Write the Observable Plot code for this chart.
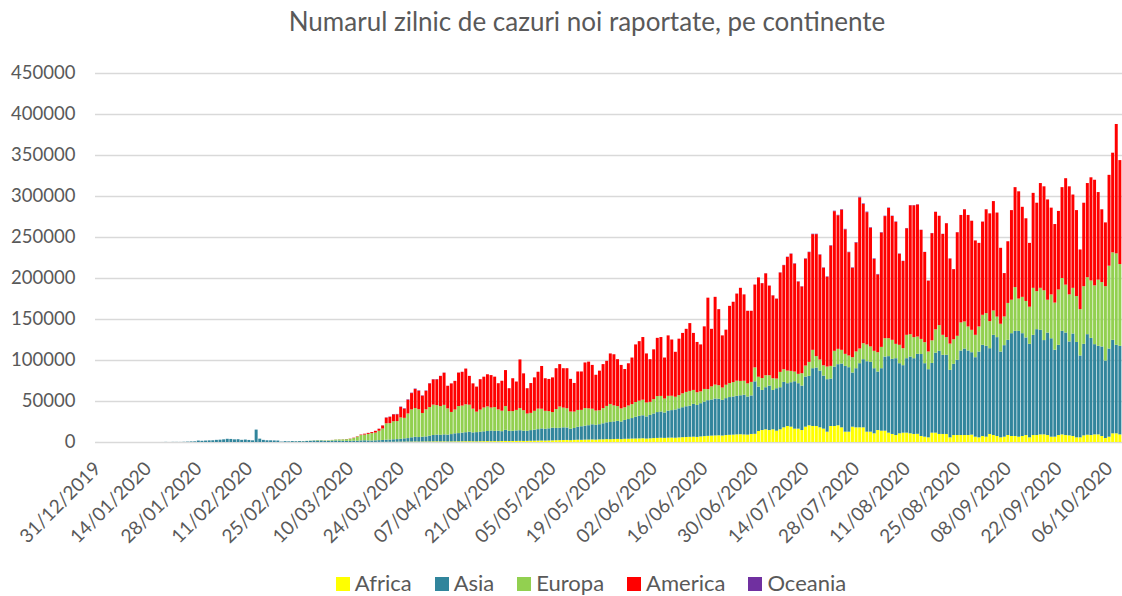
<!DOCTYPE html>
<html>
<head>
<meta charset="utf-8">
<script src="https://cdn.jsdelivr.net/npm/d3@7"></script>
<script src="https://cdn.jsdelivr.net/npm/@observablehq/plot@0.6"></script>
<style>
html,body{margin:0;padding:0;background:#fff;}
#wrap{position:relative;width:1122px;height:596px;overflow:hidden;font-family:Lato,sans-serif;background:#fff;}
#title{position:absolute;left:0;top:6px;width:1122px;text-align:center;font-size:26px;line-height:30px;color:#595959;padding-left:52px;box-sizing:border-box;white-space:nowrap;}
#chart{position:absolute;left:0;top:50px;}
#legend{position:absolute;left:0;top:570px;width:1122px;display:flex;justify-content:center;gap:23px;font-size:22px;line-height:26px;color:#595959;padding-left:60px;box-sizing:border-box;}
.item{display:flex;align-items:flex-start;}
.sw{width:14px;height:14px;margin-right:5px;margin-top:7px;}
</style>
</head>
<body>
<div id="wrap">
  <div id="title">Numarul zilnic de cazuri noi raportate, pe continente</div>
  <div id="chart"></div>
  <div id="legend"></div>
</div>
<script>
// Daily categories: 31/12/2019 .. 09/10/2020
const firstDay = new Date(Date.UTC(2019, 11, 31));
const dayAfterLast = new Date(Date.UTC(2020, 9, 10));

const continents = ["Africa", "Asia", "Europa", "America", "Oceania"];
const colors = ["#FFFF00", "#31859C", "#92D050", "#FF0000", "#7030A0"];

const tickLabels = ["31/12/2019","14/01/2020","28/01/2020","11/02/2020","25/02/2020","10/03/2020","24/03/2020",
  "07/04/2020","21/04/2020","05/05/2020","19/05/2020","02/06/2020","16/06/2020","30/06/2020","14/07/2020",
  "28/07/2020","11/08/2020","25/08/2020","08/09/2020","22/09/2020","06/10/2020"];
const yTicks = [0, 50000, 100000, 150000, 200000, 250000, 300000, 350000, 400000, 450000];

// daily new cases, thousands
const africa = [
0,0,0,0,0,0,0,0,0,0,
0,0,0,0,0,0,0,0,0,0,
0,0,0,0,0,0,0,0,0,0,
0,0,0,0,0,0,0,0,0,0,
0,0,0,0,0,0.001,0,0,0,0,
0,0,0,0,0,0,0,0.001,0.001,0.002,
0.001,0.003,0.002,0.005,0.004,0.006,0.01,0.02,0.015,0.025,
0.03,0.04,0.05,0.06,0.08,0.09,0.1,0.12,0.15,0.17,
0.2,0.25,0.3,0.35,0.4,0.45,0.5,0.55,0.6,0.55,
0.6,0.65,0.7,0.75,0.8,0.75,0.8,0.7,0.75,0.8,
0.85,0.9,0.95,1.0,0.9,0.85,1.0,1.05,1.1,1.0,
1.1,1.0,1.2,1.3,1.2,1.25,1.35,1.4,1.3,1.4,
1.5,1.6,1.7,1.8,1.75,1.9,2.0,2.2,2.3,2.4,
2.5,2.2,2.6,2.8,2.7,2.9,3.0,3.1,2.9,3.2,
3.3,3.5,3.4,3.6,3.8,3.5,3.9,4.0,4.2,4.3,
4.4,4.6,4.2,4.5,4.8,5.0,5.2,5.0,5.3,5.4,
5.2,5.6,5.9,6.1,6.3,6.5,6.2,6.8,7.2,7.5,
7.8,8.0,8.2,7.9,8.5,8.8,9.0,9.3,9.5,9.2,
9.0,9.8,10.0,13.4,14.6,15.5,14.6,15.5,13.8,15.5,
17.9,19.5,18.7,16.3,16.3,14.6,18.7,20.4,19.5,19.5,
17.9,16.3,12.6,19.5,19.5,20.4,17.9,12.6,12.6,18.7,
17.9,17.9,17.9,12.6,12.6,10.6,14.6,13.8,13.8,11.4,
9.8,8.5,10.6,11.4,11.4,10.6,9.8,10.0,7.3,6.5,
5.7,11.4,11.4,9.8,9.8,9.8,5.7,8.5,8.5,8.5,
8.5,8.5,9.0,6.5,5.7,7.3,6.5,9.8,8.5,7.3,
5.7,6.5,8.5,7.3,7.3,6.5,7.3,8.5,5.7,8.5,
8.5,9.3,9.3,8.5,6.5,6.5,8.5,9.3,8.5,8.1,
7.3,5.7,5.7,8.1,8.9,8.5,9.3,9.3,7.3,4.9,
6.5,10.6,10.6,9.3];

const asia = [
0.027,0,0,0,0,0,0,0,0,0,
0,0,0,0.001,0,0.001,0,0.004,0.017,0.136,
0.019,0.151,0.14,0.097,0.266,0.453,0.673,0.797,1.767,1.48,
1.757,1.985,2.111,2.614,2.843,3.251,3.907,3.738,3.221,3.4,
2.658,3.001,2.519,2.022,15.151,4.071,2.591,2.09,2.05,1.895,
1.768,0.454,1.04,0.75,1.13,0.9,1.1,0.95,1.25,1.45,
1.75,1.7,1.85,1.45,1.4,1.7,1.8,1.7,1.5,1.35,
1.3,1.6,1.5,1.9,2.0,1.8,1.7,1.9,2.1,2.3,
2.6,2.8,3.0,3.2,3.5,4.0,4.3,5.2,5.8,5.5,
5.8,6.2,7.0,7.8,8.2,8.0,8.5,8.3,8.9,9.8,
10.0,10.5,11.0,11.5,10.8,11.2,11.5,12.0,12.3,13.0,
12.5,12.8,12.0,13.5,12.5,12.4,12.8,13.0,12.5,12.3,
13.0,13.4,14.0,14.8,14.3,14.8,15.5,15.0,15.0,15.5,
15.2,14.0,14.5,15.8,16.5,17.0,17.5,18.5,18.0,18.5,
19.5,20.5,21.0,21.5,22.0,21.5,23.0,24.0,25.0,26.5,
27.5,28.0,27.0,28.5,30.0,31.5,32.0,31.0,33.0,33.5,
34.5,35.5,36.5,37.5,38.0,40.0,39.0,40.5,42.0,43.5,
44.0,45.0,44.5,43.5,45.0,46.0,46.5,47.0,47.5,48.5,
46.5,47.0,64.0,54.2,48.9,51.3,54.2,48.0,51.8,51.3,
55.4,52.2,54.2,57.8,55.4,54.2,61.1,60.2,70.5,71.3,
69.2,64.7,64.0,57.9,72.5,74.5,77.8,80.2,78.6,66.0,
72.1,78.2,83.1,85.9,85.1,79.4,71.3,76.2,90.4,93.3,
91.6,93.7,85.5,82.3,90.8,93.6,92.4,97.5,100.0,89.6,
83.1,85.0,97.5,101.4,96.5,96.5,82.3,86.8,91.7,103.1,
105.5,103.1,100.5,96.9,104.6,111.2,110.8,104.6,122.2,120.6,
104.6,111.6,116.1,125.4,128.3,129.0,125.4,119.0,114.0,122.2,
129.1,127.5,115.0,125.0,120.0,106.0,110.0,126.3,125.0,114.5,
125.0,116.3,99.8,111.6,122.6,118.5,110.0,108.0,109.2,94.5,
107.5,114.0,107.9,108.0];

const europa = [
0,0,0,0,0,0,0,0,0,0,
0,0,0,0,0,0,0,0,0,0,
0,0,0,0,0.003,0,0.001,0.001,0.004,0.001,
0.005,0.003,0.01,0.002,0.001,0.001,0,0.005,0.002,0.004,
0.004,0.002,0.003,0.001,0.002,0.002,0.001,0.001,0,0.001,
0.002,0.003,0.003,0.017,0.062,0.054,0.1,0.13,0.16,0.2,
0.24,0.57,0.38,0.51,0.58,0.78,1.15,1.4,1.7,2.1,
2.6,3.2,5.0,6.5,7.0,8.0,9.0,9.5,11.5,14.0,
20,20,22,22,26,25,30,34,35,34,
29,33,35,37,36,35,36,32,27,29,
33,33,34,33,29,25,27,29,30,28,
29,26,25,29,24,24,25,27,25,21,
21,23,25,24,22,21,19,23,26.0,24.0,
23.5,21.0,20.0,20.5,20.0,21.5,20.5,19.0,17.5,17.0,
18.5,20.0,22.0,19.5,18.0,16.0,15.5,16.5,17.0,18.0,
18.5,19.0,17.0,16.0,17.5,19.5,19.0,17.0,18.0,17.5,
15.5,16.0,17.0,17.5,18.0,17.0,15.5,14.5,15.5,13.5,
16.0,17.0,16.5,15.0,16.3,17.0,17.5,18.5,17.5,17.0,
16.0,16.5,17.0,12.0,14.5,14.6,12.6,14.3,11.8,18.7,
15.5,15.4,13.8,11.8,11.4,15.1,13.4,17.1,22.4,14.0,
13.5,12.5,15.4,15.4,19.2,18.7,16.7,14.7,14.3,18.7,
20.4,17.9,19.5,20.4,18.8,21.2,23.6,26.0,22.4,21.9,
23.2,17.5,22.4,20.7,28.5,27.3,25.7,21.1,18.4,25.7,
21.6,27.6,28.5,31.3,24.4,21.6,32.0,30.0,29.3,34.2,
33.0,29.3,27.3,27.3,30.6,36.6,39.9,33.0,29.7,25.0,
33.9,35.0,45.0,40.8,53.3,39.4,44.3,44.5,45.3,57.3,
46.4,51.2,60.7,40.0,53.5,57.5,67.5,64.4,58.4,57.4,
55.7,56.0,56.5,70.3,69.5,70.0,71.7,80.7,78.5,90.6,
101.0,106.7,111.5,99.7];

const america = [
0,0,0,0,0,0,0,0,0,0,
0,0,0,0,0,0,0,0,0,0,
0,0.001,0,0,0,0,0.002,0.001,0,0.001,
0.001,0.002,0,0.001,0,0.001,0,0.001,0,0,
0.001,0,0,0.001,0,0,0,0,0.002,0,
0,0.01,0,0.002,0.001,0,0.003,0.004,0.002,0.006,
0.01,0.03,0.02,0.03,0.05,0.06,0.07,0.1,0.11,0.15,
0.25,0.4,0.45,0.6,1.0,1.2,1.3,2.1,2.4,3.7,
7.0,7.7,8.5,8.3,12.9,11.3,16.9,19.9,23.2,22.5,
21.1,22.7,28.8,30.9,31.5,36.7,39.2,27.5,34.8,34.9,
40.8,41.2,43.6,35.1,30.8,30.5,37.1,37.6,39.2,39.6,
37.1,31.9,36.5,43.9,27.9,40.1,34.6,59.3,44.9,30.9,
36.4,40.8,45.0,52.1,39.7,39.2,42.3,49.8,51.7,48.1,
48.8,39.8,34.9,46.9,46.8,55.6,57.0,53.4,43.6,48.3,
53.7,55.0,61.6,62.4,57.2,53.0,46.6,51.5,56.8,70.2,
72.6,76.4,59.8,52.0,60.7,71.0,71.8,50.0,73.7,68.6,
54.8,68.9,73.6,76.9,82.7,69.5,61.3,57.2,76.3,111.5,
70.2,107.0,92.8,63.6,67.2,94.2,98.0,106.2,113.5,105.3,
88.5,86.7,101.0,121.1,115.7,124.3,109.3,101.0,97.4,121.2,
126.9,138.6,142.9,131.7,112.6,105.8,130.4,133.9,141.1,148.7,
127.9,119.1,109.6,146.7,170.3,162.9,171.0,151.9,126.0,109.1,
132.9,184.3,169.8,161.4,144.9,112.2,94.9,139.5,148.9,158.9,
151.0,148.9,111.1,106.3,130.0,157.2,160.8,161.1,133.0,109.9,
86.4,130.7,143.3,133.3,123.1,138.9,103.8,85.5,126.3,131.0,
136.8,135.9,133.0,115.1,101.9,113.7,126.6,131.4,133.4,126.9,
92.6,52.9,75.2,109.3,121.9,130.8,109.8,100.8,77.8,115.8,
107.8,127.8,126.8,122.3,105.8,95.8,95.8,110.8,129.8,131.8,
113.8,104.8,72.8,101.8,114.8,125.8,128.8,106.8,88.8,77.8,
110.8,121.5,157.8,126.8];

const oceania = [
0,0,0,0,0,0,0,0,0,0,
0,0,0,0,0,0,0,0,0,0,
0,0,0,0,0,0.004,0,0.001,0,0.002,
0.002,0.002,0.003,0.001,0,0,0,0,0,0,
0,0,0,0,0,0,0,0,0,0,
0,0,0,0,0,0,0,0,0,0.001,
0.001,0.003,0.004,0.006,0.005,0.01,0.012,0.015,0.02,0.025,
0.03,0.03,0.03,0.05,0.06,0.08,0.1,0.12,0.15,0.2,
0.25,0.3,0.35,0.4,0.45,0.5,0.45,0.5,0.55,0.5,
0.45,0.4,0.35,0.3,0.3,0.25,0.2,0.15,0.12,0.1,
0.1,0.08,0.07,0.06,0.05,0.04,0.04,0.03,0.03,0.02,
0.02,0.02,0.02,0.02,0.02,0.02,0.01,0.02,0.02,0.02,
0.02,0.02,0.01,0.02,0.02,0.02,0.02,0.01,0.02,0.02,
0.02,0.01,0.02,0.02,0.02,0.02,0.02,0.02,0.01,0.02,
0.02,0.02,0.03,0.02,0.02,0.02,0.03,0.03,0.02,0.03,
0.03,0.03,0.02,0.03,0.03,0.03,0.03,0.03,0.03,0.03,
0.03,0.04,0.04,0.04,0.04,0.04,0.03,0.04,0.05,0.05,
0.05,0.05,0.05,0.05,0.06,0.06,0.06,0.07,0.07,0.07,
0.08,0.08,0.08,0.1,0.13,0.15,0.2,0.2,0.22,0.25,
0.3,0.33,0.35,0.4,0.35,0.3,0.42,0.45,0.5,0.5,
0.45,0.4,0.45,0.55,0.6,0.55,0.6,0.58,0.5,0.55,
0.6,0.7,0.72,0.68,0.62,0.6,0.55,0.5,0.48,0.45,
0.42,0.4,0.35,0.33,0.3,0.3,0.28,0.25,0.22,0.2,
0.18,0.2,0.18,0.17,0.15,0.14,0.12,0.12,0.13,0.13,
0.12,0.11,0.1,0.08,0.08,0.09,0.08,0.08,0.07,0.06,
0.05,0.05,0.06,0.06,0.05,0.05,0.04,0.04,0.03,0.04,
0.03,0.03,0.03,0.03,0.02,0.02,0.02,0.03,0.03,0.02,
0.02,0.02,0.02,0.02,0.02,0.02,0.02,0.02,0.02,0.02,
0.02,0.02,0.02,0.02];

const fmt = d3.utcFormat("%d/%m/%Y");
const days = d3.utcDays(firstDay, dayAfterLast).map(fmt);
const series = [africa, asia, europa, america, oceania];

const table = [];
days.forEach((day, i) => {
  continents.forEach((c, k) => {
    table.push({date: day, continent: c, value: (series[k][i] || 0) * 1000});
  });
});

const chart = Plot.plot({
  width: 1122,
  height: 520,
  marginLeft: 95,
  marginRight: 0,
  marginTop: 23,
  marginBottom: 128,
  style: {fontFamily: "Lato, sans-serif", fontSize: "18.5px", color: "#595959", background: "#fff"},
  x: {type: "band", domain: days, padding: 0.18, round: false, axis: null},
  y: {domain: [0, 450000], axis: null},
  color: {domain: continents, range: colors},
  marks: [
    Plot.gridY(yTicks, {stroke: "#d9d9d9", strokeOpacity: 1, strokeWidth: 1.5}),
    Plot.barY(table, Plot.stackY({order: continents}, {x: "date", y: "value", fill: "continent"})),
    Plot.axisY(yTicks, {tickSize: 0, tickPadding: 20, tickFormat: d3.format("d"), label: null}),
    Plot.axisX(tickLabels, {tickSize: 0, tickPadding: 23, tickRotate: -45, fontSize: 19, label: null})
  ]
});
document.getElementById("chart").appendChild(chart);

const legend = document.getElementById("legend");
continents.forEach((c, k) => {
  const item = document.createElement("div");
  item.className = "item";
  const sw = document.createElement("div");
  sw.className = "sw";
  sw.style.background = colors[k];
  const t = document.createElement("span");
  t.textContent = c;
  item.appendChild(sw);
  item.appendChild(t);
  legend.appendChild(item);
});
if (days.length !== africa.length || asia.length !== days.length || europa.length !== days.length || america.length !== days.length || oceania.length !== days.length) {
  console.error("length mismatch", days.length, africa.length, asia.length, europa.length, america.length, oceania.length);
}
</script>
</body>
</html>
